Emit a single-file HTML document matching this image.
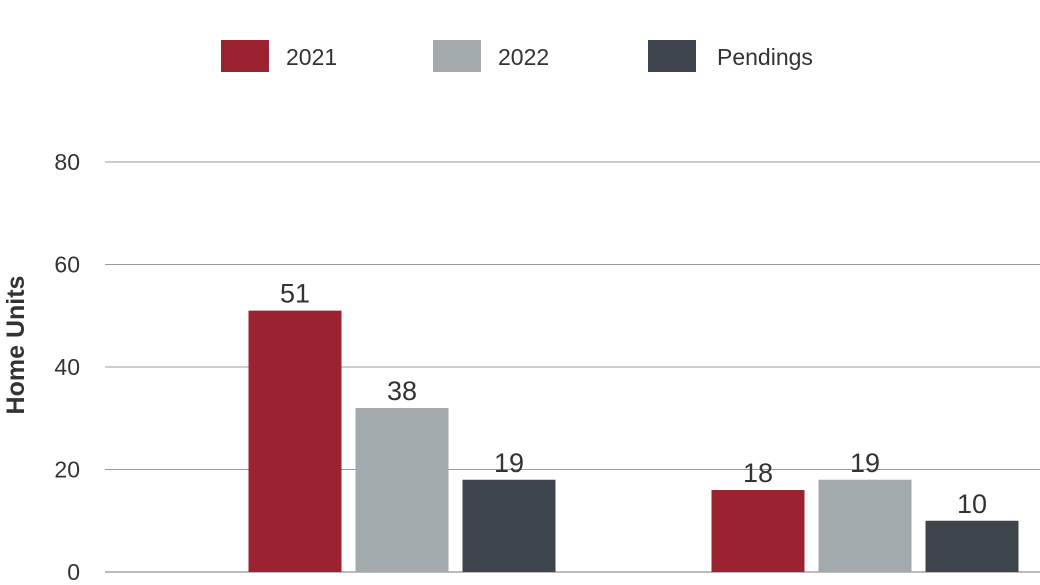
<!DOCTYPE html>
<html><head><meta charset="utf-8"><style>
body{margin:0;background:#fff;}
svg{display:block;font-family:"Liberation Sans",sans-serif;}
</style></head><body>
<svg id="chart" width="1040" height="585"></svg>
<script>
const categories = ["Group A", "Group B"];
const seriesNames = ["2021", "2022", "Pendings"];
const series2021 = [51, 16];
const series2022 = [32, 18];
const seriesPendings = [18, 10];
const labels2021 = ["51", "18"];
const labels2022 = ["38", "19"];
const labelsPendings = ["19", "10"];
const yTicks = [0, 20, 40, 60, 80];

const NS = "http://www.w3.org/2000/svg";
const svg = document.getElementById("chart");
const colors = ["#9b2230", "#a2aaae", "#3d444b"];
const y0 = 572, yMax = 80, plotTop = 162;
function y(v){ return y0 - (v / yMax) * (y0 - plotTop); }
const groupCenters = [402, 865];
function x(ci, si){ return groupCenters[ci] + (si - 1) * 107; }
const barW = 93;
function mk(tag, attrs){ const e = document.createElementNS(NS, tag); for (const k in attrs) e.setAttribute(k, attrs[k]); svg.appendChild(e); return e; }

yTicks.forEach(t => {
  const l = mk("line", {x1:105, x2:1040, y1:y(t), y2:y(t), stroke: t===0 ? "#777" : "#9a9a9a", "stroke-width":1});
  
  
  const tx = mk("text", {x:80, y:y(t)+8, "text-anchor":"end", "font-size":23, fill:"#333"});
  tx.textContent = t;
  
  
});

const title = mk("text", {x:0, y:0, transform:"translate(24,345) rotate(-90)", "text-anchor":"middle", "font-size":25, "font-weight":"bold", fill:"#333"});
title.textContent = "Home Units";



const allSeries = [series2021, series2022, seriesPendings];
const allLabels = [labels2021, labels2022, labelsPendings];
categories.forEach((c, ci) => {
  allSeries.forEach((s, si) => {
    const cx = x(ci, si);
    const r = mk("rect", {x:cx - barW/2, y:y(s[ci]), width:barW, height:y0 - y(s[ci]), fill:colors[si]});
    
    
    const t = mk("text", {x:cx, y:y(s[ci]) - 8, "text-anchor":"middle", "font-size":27, fill:"#333"});
    t.textContent = allLabels[si][ci];
    
    
  });
});

const legendX = [221, 433, 648];
seriesNames.forEach((n, i) => {
  const r = mk("rect", {x:legendX[i], y:40, width:48, height:32, fill:colors[i]});
  
  
  const t = mk("text", {x:legendX[i] + (i===2 ? 69 : 65), y:65, "font-size":23, fill:"#333"});
  t.textContent = n;
  
  
});
</script>
</body></html>
